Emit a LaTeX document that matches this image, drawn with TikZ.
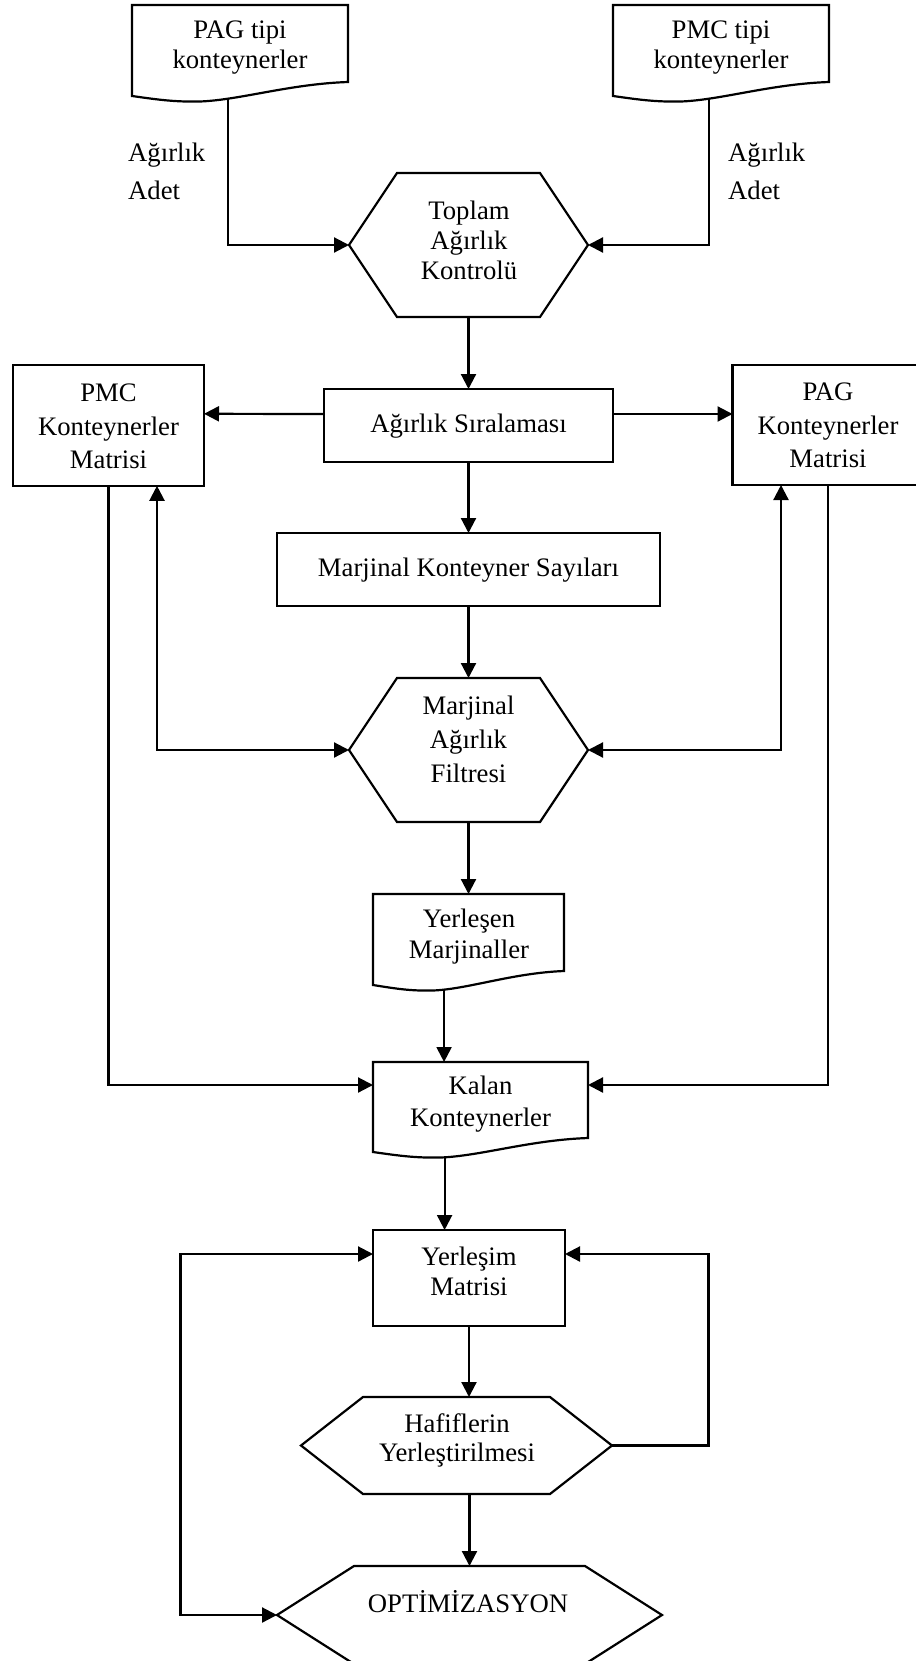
\documentclass[tikz,border=0pt]{standalone}
\usepackage{fontspec}
\setmainfont{Liberation Serif}
\usetikzlibrary{arrows.meta,calc}

% hexagon outline around an empty frame node; #2 = horizontal corner inset
\newcommand{\hexoutline}[2]{%
  \draw[outline] (#1.west) -- ([xshift=#2]#1.north west) -- ([xshift=-#2]#1.north east)
    -- (#1.east) -- ([xshift=-#2]#1.south east) -- ([xshift=#2]#1.south west) -- cycle;}
% document symbol: rectangle frame with a wavy lower edge
\newcommand{\docoutline}[1]{%
  \draw[outline] (#1.south east) -- (#1.north east) -- (#1.north west)
    -- ($(#1.south west)+(0,14)$)
    .. controls ($(#1.south west)!0.13!(#1.south east)+(0,18)$) and ($(#1.south west)!0.2!(#1.south east)+(0,20)$)
    .. ($(#1.south west)!0.315!(#1.south east)+(0,19.5)$)
    .. controls ($(#1.south west)!0.5!(#1.south east)+(0,18)$) and ($(#1.south west)!0.73!(#1.south east)+(0,2)$)
    .. (#1.south east) -- cycle;}

\begin{document}
\begin{tikzpicture}[x=1pt,y=-1pt,
  outline/.style={line width=2.2pt},
  frame/.style={inner sep=0pt, outer sep=0pt, minimum width=#1},
  rectbox/.style={draw, line width=2.2pt, inner sep=0pt, outer sep=0pt},
  txt/.style={inner sep=0pt, align=center, font=\fontsize{26.7pt}{#1}\selectfont},
  txt/.default=30pt,
  tip/.tip={Triangle[length=15pt,width=15pt]},
  arr/.style={line width=2.2pt, -tip},
  dbl/.style={line width=2.2pt, tip-tip}]

\useasboundingbox (0,0) rectangle (915,1661);

% ---- input documents
\node[frame=216pt, minimum height=77pt] (pagdoc) at (240,43.5) {};
\docoutline{pagdoc}
\node[txt] (pagdoc-t) at (240,48) {PAG tipi\\konteynerler};
\node[frame=216pt, minimum height=77pt] (pmcdoc) at (721,43.5) {};
\docoutline{pmcdoc}
\node[txt] (pmcdoc-t) at (721,48) {PMC tipi\\konteynerler};
\coordinate (pagout) at ($(pagdoc.south west)!0.444!(pagdoc.south east)+(0,16.7)$);
\coordinate (pmcout) at ($(pmcdoc.south west)!0.444!(pmcdoc.south east)+(0,16.7)$);

\node[txt=38pt, align=left, anchor=west] (inL) at (128,171) {Ağırlık\\Adet};
\node[txt=38pt, align=left, anchor=west] (inR) at (728,171) {Ağırlık\\Adet};

% ---- total weight check
\node[frame=239pt, minimum height=144pt] (toplam) at (468.5,245) {};
\hexoutline{toplam}{48pt}
\node[txt] (toplam-t) at (469,240) {Toplam\\Ağırlık\\Kontrolü};

% ---- sorting and matrices
\node[rectbox, minimum width=289pt, minimum height=73pt] (siral) at (468.5,425.5) {};
\node[txt] (siral-t) at (468.5,426) {Ağırlık Sıralaması};
\node[rectbox, minimum width=191pt, minimum height=121pt] (pmcmat) at (108.5,425.3) {};
\node[txt=33.5pt] (pmcmat-t) at (108.5,426.5) {PMC\\Konteynerler\\Matrisi};
\node[rectbox, minimum width=191pt, minimum height=120pt] (pagmat) at (828,425) {};
\node[txt=33.5pt] (pagmat-t) at (828,425.5) {PAG\\Konteynerler\\Matrisi};

\node[rectbox, minimum width=383pt, minimum height=73pt] (marjsay) at (468.5,569.5) {};
\node[txt] (marjsay-t) at (468.5,570) {Marjinal Konteyner Sayıları};

% ---- marginal weight filter
\node[frame=239pt, minimum height=144pt] (filter) at (468.5,750) {};
\hexoutline{filter}{48pt}
\node[txt=34pt] (filter-t) at (468.5,739) {Marjinal\\Ağırlık\\Filtresi};

% ---- placed marginals and remaining containers
\node[frame=191pt, minimum height=77pt] (yerdoc) at (468.5,932.5) {};
\docoutline{yerdoc}
\node[txt=31pt] (yerdoc-t) at (469,936.5) {Yerleşen\\Marjinaller};
\coordinate (yerout) at ($(yerdoc.south west)!0.372!(yerdoc.south east)+(0,18.6)$);

\node[frame=215pt, minimum height=76pt] (kalan) at (480.5,1100) {};
\docoutline{kalan}
\node[txt=32pt] (kalan-t) at (480.5,1104) {Kalan\\Konteynerler};
\coordinate (kalanout) at ($(kalan.south west)!0.333!(kalan.south east)+(0,19.4)$);

% ---- placement loop
\node[rectbox, minimum width=192pt, minimum height=96pt] (yerlesim) at (469,1278) {};
\node[txt=29.5pt] (yerlesim-t) at (469,1271.5) {Yerleşim\\Matrisi};

\node[frame=311pt, minimum height=97pt] (hafif) at (456.5,1445.5) {};
\hexoutline{hafif}{62pt}
\node[txt=29pt] (hafif-t) at (457,1440.5) {Hafiflerin\\Yerleştirilmesi};

\node[frame=385pt, minimum height=98pt] (opt) at (469.5,1615) {};
\hexoutline{opt}{77pt}
\node[txt] (opt-t) at (468,1602) {OPTİMİZASYON};

\coordinate (loopr) at (708.5,1445.5);
\coordinate (loopl) at (180.5,1254);

% ---- connectors
\draw[arr] (pagout) |- (toplam.west);
\draw[arr] (pmcout) |- (toplam.east);
\draw[arr] (toplam.south) -- (siral.north);
\draw[arr] ([yshift=11.5pt]siral.west) -- ([yshift=11.5pt]pmcmat.east);
\draw[arr] ([yshift=11.5pt]siral.east) -- ([yshift=11pt]pagmat.west);
\draw[arr] (siral.south) -- (marjsay.north);
\draw[arr] (marjsay.south) -- (filter.north);
\draw[dbl] ([xshift=48.5pt]pmcmat.south) |- (filter.west);
\draw[dbl] ([xshift=-47pt]pagmat.south) |- (filter.east);
\draw[arr] (filter.south) -- (yerdoc.north);
\draw[arr] (yerout) -- (yerout |- kalan.north);
\draw[arr] (pmcmat.south) |- ([yshift=15pt]kalan.west);
\draw[arr] (pagmat.south) |- ([yshift=15pt]kalan.east);
\draw[arr] (kalanout) -- (kalanout |- yerlesim.north);
\draw[arr] (yerlesim.south) -- (yerlesim.south |- hafif.north);
\draw[arr] (opt.north |- hafif.south) -- (opt.north);
\draw[arr] (hafif.east) -- (loopr) |- ([yshift=24pt]yerlesim.east);
\draw[dbl] ([yshift=24pt]yerlesim.west) -- (loopl) |- (opt.west);
\end{tikzpicture}
\end{document}
